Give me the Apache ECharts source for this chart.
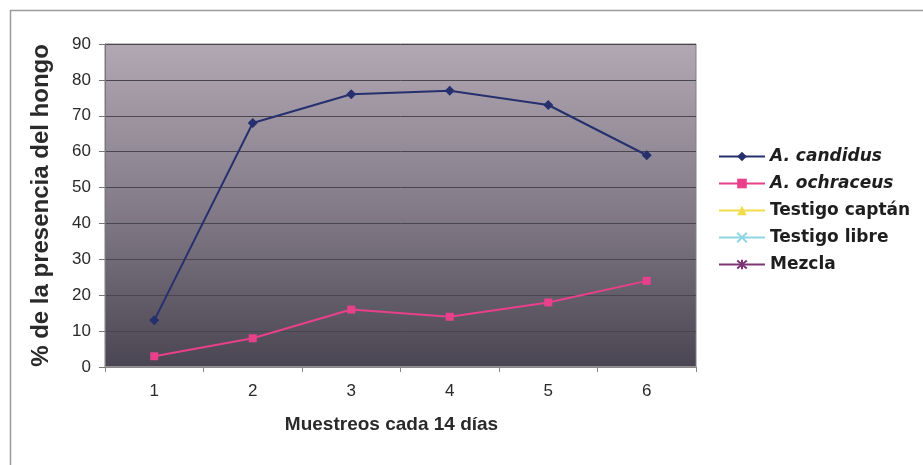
<!DOCTYPE html>
<html>
<head>
<meta charset="utf-8">
<script src="https://cdn.jsdelivr.net/npm/echarts@6/dist/echarts.min.js"></script>
<style>html,body{margin:0;padding:0;background:#fff;}#c{width:923px;height:465px;}</style>
</head>
<body>
<div id="c"></div>
<script>
var categories = ['1', '2', '3', '4', '5', '6'];
var candidus = [13, 68, 76, 77, 73, 59];
var ochraceus = [3, 8, 16, 14, 18, 24];
var captan = [null, null, null, null, null, null];
var libre = [null, null, null, null, null, null];
var mezcla = [null, null, null, null, null, null];
var seriesNames = ['A. candidus', 'A. ochraceus', 'Testigo captán', 'Testigo libre', 'Mezcla'];

var chart = echarts.init(document.getElementById('c'));
var xPath = 'path://M0,0 L10,10 M10,0 L0,10';
var starPath = 'path://M0,0 L10,10 M10,0 L0,10 M5,-1 L5,11';
function mk(name, data, color, symbol, size) {
  return {
    name: name, type: 'line', data: data,
    symbol: symbol, symbolSize: size,
    itemStyle: { color: color, borderColor: color, borderWidth: (symbol.indexOf('path') === 0 ? 2 : 0) },
    lineStyle: { color: color, width: 2 },
    connectNulls: false
  };
}
chart.setOption({
  animation: false,
  graphic: [{
    type: 'rect', shape: { x: 10.5, y: 10.5, width: 930, height: 480 },
    style: { fill: 'none', stroke: '#9a9a9a', lineWidth: 1.5 }, z: -1
  }],
  grid: {
    left: 105, right: 227, top: 44, bottom: 98,
    show: true, borderColor: '#808080', borderWidth: 1,
    backgroundColor: {
      type: 'linear', x: 0, y: 0, x2: 0, y2: 1,
      colorStops: [
        { offset: 0, color: '#b2a8b4' },
        { offset: 0.5, color: '#847c89' },
        { offset: 1, color: '#4a4552' }
      ]
    }
  },
  legend: {
    orient: 'vertical', left: 713, top: 143,
    itemWidth: 46, itemHeight: 12, itemGap: 10,
    data: [
      { name: seriesNames[0], textStyle: { fontStyle: 'italic' } },
      { name: seriesNames[1], textStyle: { fontStyle: 'italic' } },
      { name: seriesNames[2] },
      { name: seriesNames[3] },
      { name: seriesNames[4] }
    ],
    textStyle: { fontFamily: 'DejaVu Sans', fontWeight: 'bold', fontSize: 17, color: '#1e1e1e' }
  },
  xAxis: {
    type: 'category', data: categories, boundaryGap: true,
    name: 'Muestreos cada 14 días', nameLocation: 'middle', nameGap: 48,
    nameTextStyle: { fontFamily: 'Liberation Sans', fontWeight: 'bold', fontSize: 19, color: '#2a2a2a', padding: [0, 18, 0, 0] },
    axisLine: { lineStyle: { color: '#a0a0a0', width: 1.5 } },
    axisTick: { show: true, length: 5, lineStyle: { color: '#888' } },
    axisLabel: { fontFamily: 'Liberation Sans', fontSize: 17, color: '#2a2a2a', margin: 16 }
  },
  yAxis: {
    type: 'value', min: 0, max: 90, interval: 10,
    name: '% de la presencia del hongo', nameLocation: 'middle', nameGap: 52, nameRotate: 90,
    nameTextStyle: { fontFamily: 'Liberation Sans', fontWeight: 'bold', fontSize: 24, color: '#2a2a2a' },
    axisLine: { show: true, lineStyle: { color: '#777' } },
    axisTick: { show: true, inside: false, length: 6, lineStyle: { color: '#777' } },
    axisLabel: { fontFamily: 'Liberation Sans', fontSize: 17, color: '#2a2a2a', margin: 14 },
    splitLine: { show: true, lineStyle: { color: '#4a4650', width: 1 } }
  },
  series: [
    mk(seriesNames[0], candidus, '#27306e', 'diamond', 10),
    mk(seriesNames[1], ochraceus, '#e8408a', 'rect', 8),
    mk(seriesNames[2], captan, '#f2dc4a', 'triangle', 9),
    mk(seriesNames[3], libre, '#8fd6e4', xPath, 7),
    mk(seriesNames[4], mezcla, '#7e3574', starPath, 7)
  ]
});
</script>
</body>
</html>
